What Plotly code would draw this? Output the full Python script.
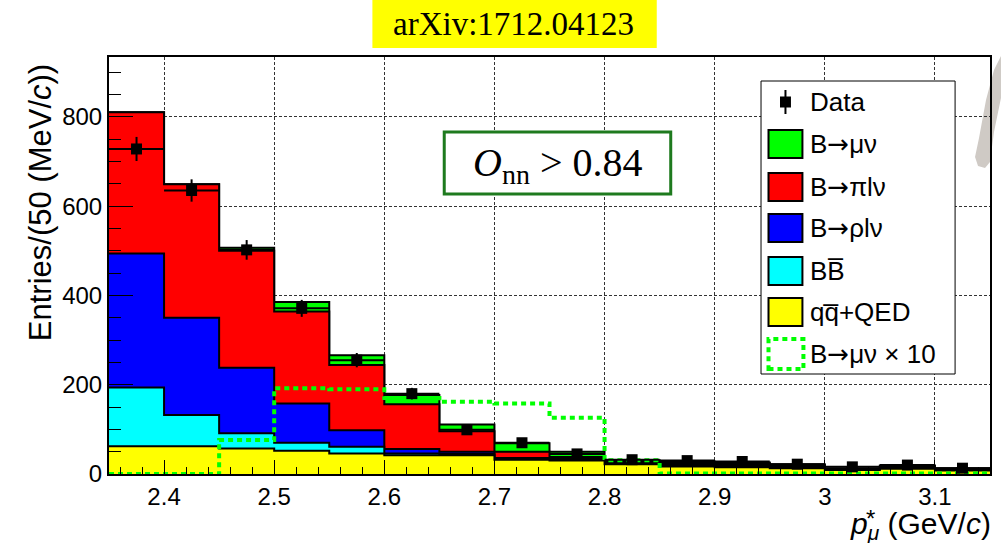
import numpy as np
import plotly.graph_objects as go

# ---------------- data ----------------
bin_low = [2.35, 2.40, 2.45, 2.50, 2.55, 2.60, 2.65, 2.70,
           2.75, 2.80, 2.85, 2.90, 2.95, 3.00, 3.05, 3.10]
bin_width = 0.05

data_counts = [728, 635, 502, 371, 255, 180, 99, 70, 45, 32, 30, 28, 22, 16, 20, 13]
data_err = [27, 25, 22, 19, 16, 13, 10, 8.4, 6.7, 5.7, 5.5, 5.3, 4.7, 4.0, 4.5, 3.6]

qqbar_qed = [62, 62, 57, 52, 46, 42, 42, 32, 30, 22, 17, 15, 13, 9, 12, 8]
bbbar = [132, 70, 34, 18, 15, 4, 3, 2, 2, 2, 3, 3, 2, 1, 2, 1]
b_rholnu = [300, 218, 147, 88, 37, 10, 5, 2, 3, 2, 3, 3, 2, 1, 2, 1]
b_pilnu = [316, 299, 262, 206, 146, 100, 46, 14, 3, 2, 3, 3, 3, 1, 2, 2]
b_munu = [0, 0, 7, 21, 22, 21, 15, 19, 12, 3, 2, 2, 2, 1, 1, 1]
b_munu_x10 = [0, 0, 76, 192, 190, 170, 162, 158, 126, 31, 1, 1, 1, 1, 1, 1]

ARROW = "<span style='font-family:DejaVu Sans'>\u2192</span>"
legend_labels = ["Data", "B" + ARROW + "\u03bc\u03bd", "B" + ARROW + "\u03c0l\u03bd",
                 "B" + ARROW + "\u03c1l\u03bd", "BB\u0305", "qq\u0305+QED",
                 "B" + ARROW + "\u03bc\u03bd \u00d7 10"]

# ---------------- geometry helpers ----------------
L, R, T, B = 109, 992, 57, 474
W, H = R - L, B - T


def px(x):
    return (x - L) / W


def py(y):
    return (B - y) / H


edges = list(bin_low) + [bin_low[-1] + bin_width]
centers = [b + bin_width / 2 for b in bin_low]

fig = go.Figure()

components = [(qqbar_qed, "#ffff00"), (bbbar, "#00ffff"), (b_rholnu, "#0000ff"),
              (b_pilnu, "#ff0000"), (b_munu, "#00ff00")]
cum = np.cumsum(np.array([c[0] for c in components], dtype=float), axis=0)
for i in reversed(range(len(components))):
    yv = list(cum[i]) + [cum[i][-1]]
    fig.add_trace(go.Scatter(x=edges, y=yv, mode="lines",
                             line=dict(shape="hv", color="black", width=2),
                             fill="tozeroy", fillcolor=components[i][1],
                             hoverinfo="skip"))

fig.add_trace(go.Scatter(x=edges, y=list(b_munu_x10) + [b_munu_x10[-1]], mode="lines",
                         line=dict(shape="hv", color="#00ff00", width=4, dash="5px,4px")))

fig.add_trace(go.Scatter(x=centers, y=data_counts, mode="markers",
                         marker=dict(symbol="square", size=11, color="black"),
                         error_y=dict(type="data", array=data_err, color="black", thickness=2, width=0),
                         error_x=dict(type="data", array=[bin_width / 2] * len(centers),
                                      color="black", thickness=2, width=0)))

shapes = []
annotations = []

# Title box
shapes.append(dict(type="rect", xref="paper", yref="paper", x0=px(373), x1=px(658), y0=py(48), y1=py(0),
                   fillcolor="#ffff00", line=dict(width=0), layer="above"))
annotations.append(dict(xref="paper", yref="paper", x=px(514), y=py(24), text="arXiv:1712.04123",
                        showarrow=False, xanchor="center", yanchor="middle",
                        font=dict(family="Liberation Serif", size=33, color="black")))

# O_nn box
shapes.append(dict(type="rect", xref="paper", yref="paper", x0=px(445), x1=px(672), y0=py(194), y1=py(132),
                   fillcolor="white", line=dict(color="#1e7a1e", width=3), layer="above"))
annotations.append(dict(xref="paper", yref="paper", x=px(558.5), y=py(165),
                        text="<i>O</i><sub>nn</sub> &gt; 0.84", showarrow=False,
                        xanchor="center", yanchor="middle",
                        font=dict(family="Liberation Serif", size=40, color="black")))

# Legend
shapes.append(dict(type="rect", xref="paper", yref="paper", x0=px(762.5), x1=px(957), y0=py(374), y1=py(81),
                   fillcolor="white", line=dict(color="black", width=1), layer="above"))
row_y = [102, 144, 187, 228, 271, 312, 354]
box_cols = [None, "#00ff00", "#ff0000", "#0000ff", "#00ffff", "#ffff00", None]
for k, (lab, yc) in enumerate(zip(legend_labels, row_y)):
    if k == 0:
        shapes.append(dict(type="line", xref="paper", yref="paper", x0=px(787), x1=px(787),
                           y0=py(114), y1=py(90), line=dict(color="black", width=2), layer="above"))
        shapes.append(dict(type="rect", xref="paper", yref="paper", x0=px(781.5), x1=px(792.5),
                           y0=py(yc + 5.5), y1=py(yc - 5.5), fillcolor="black",
                           line=dict(width=0), layer="above"))
    elif k == 6:
        shapes.append(dict(type="rect", xref="paper", yref="paper", x0=px(770), x1=px(805),
                           y0=py(yc + 15), y1=py(yc - 15), fillcolor="white",
                           line=dict(color="#00ff00", width=4, dash="5px,4px"), layer="above"))
    else:
        shapes.append(dict(type="rect", xref="paper", yref="paper", x0=px(770), x1=px(804),
                           y0=py(yc + 14), y1=py(yc - 14), fillcolor=box_cols[k],
                           line=dict(color="black", width=2), layer="above"))
    annotations.append(dict(xref="paper", yref="paper", x=px(810), y=py(yc), text=lab,
                            showarrow=False, xanchor="left", yanchor="middle",
                            font=dict(family="Liberation Sans", size=26, color="black")))

# Axis titles
annotations.append(dict(xref="paper", yref="paper", x=px(40), y=py(203),
                        text="Entries/(50 (MeV/<i>c</i>))", textangle=-90, showarrow=False,
                        xanchor="center", yanchor="middle",
                        font=dict(family="Liberation Sans", size=31, color="black")))
annotations.append(dict(xref="paper", yref="paper", x=px(995), y=py(525),
                        text="<i>p</i><sub><i>\u03bc</i></sub> (GeV/<i>c</i>)",
                        showarrow=False, xanchor="right", yanchor="middle",
                        font=dict(family="Liberation Sans", size=30, color="black")))
annotations.append(dict(xref="paper", yref="paper", x=px(872), y=py(518), text="*",
                        showarrow=False, xanchor="center", yanchor="middle",
                        font=dict(family="Liberation Sans", size=24, color="black")))

# grey artefact at the top right
pts = [(1003, 56), (996, 70), (988, 100), (981, 138), (977, 157), (980, 166), (987, 168),
       (992, 162), (996, 132), (1003, 98)]
path = "M " + " L ".join(f"{px(a):.5f},{py(b):.5f}" for a, b in pts) + " Z"
shapes.append(dict(type="path", xref="paper", yref="paper", path=path,
                   fillcolor="#cfcac5", line=dict(width=0), layer="below"))

axis_common = dict(showline=True, linecolor="black", linewidth=2, mirror=True,
                   ticks="inside", tickcolor="black", tickwidth=1,
                   showgrid=True, gridcolor="#333333", gridwidth=1, griddash="3px,2px",
                   zeroline=False,
                   tickfont=dict(family="Liberation Sans", size=24, color="black"))

fig.update_layout(
    width=1001, height=543,
    margin=dict(l=L, r=1001 - R, t=T, b=543 - B),
    paper_bgcolor="white", plot_bgcolor="white",
    showlegend=False,
    xaxis=dict(range=[2.35, 3.15], dtick=0.1, tick0=2.4, ticklen=14,
               minor=dict(dtick=0.02, ticklen=7, ticks="inside", tickcolor="black", showgrid=False),
               **axis_common),
    yaxis=dict(range=[0, 934], dtick=200, ticklen=24,
               minor=dict(dtick=50, ticklen=12, ticks="inside", tickcolor="black", showgrid=False),
               **axis_common),
    shapes=shapes,
    annotations=annotations,
)

fig.write_html("out.html", config={"displayModeBar": False},
               post_script="document.body.style.margin='0';document.body.style.padding='0';")
